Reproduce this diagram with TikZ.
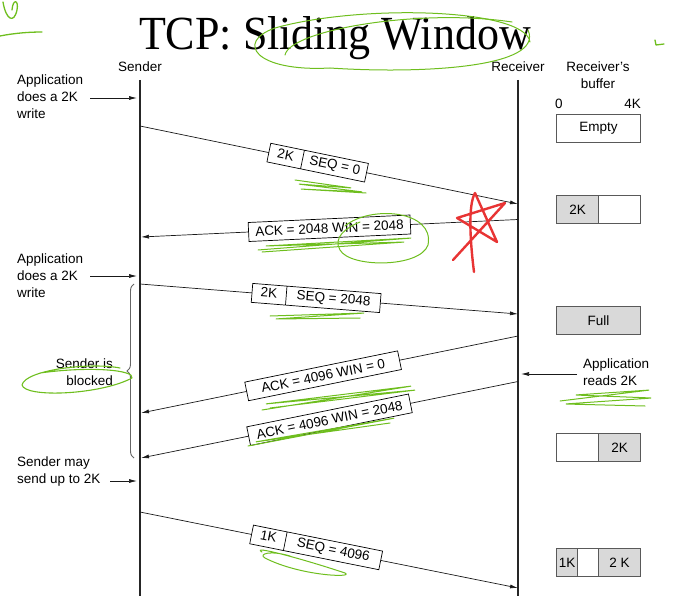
\documentclass[tikz,border=0pt]{standalone}
\usepackage{fontspec}
\setmainfont{Liberation Sans}
\newfontfamily\titlefont{Liberation Serif}
\usetikzlibrary{arrows.meta,shapes.multipart,decorations.pathreplacing,calc}
\definecolor{hl}{RGB}{110,190,30}
\definecolor{redmark}{RGB}{232,52,52}
\definecolor{cellgray}{RGB}{217,217,217}
\begin{document}
\begin{tikzpicture}[x=1pt,y=-1pt, font=\fontsize{13.5}{17}\selectfont,
  life/.style={line width=1.1pt, draw=black!85},
  msg/.style={line width=0.7pt, draw=black!90, -{Latex[length=8pt,width=4pt]}},
  arr/.style={line width=0.7pt, draw=black!90, -{Latex[length=8pt,width=4pt]}},
  lbl/.style={draw=black, line width=0.7pt, fill=white, sloped, inner xsep=0pt, inner ysep=0pt, minimum height=19pt},
  seg/.style={draw=black, line width=0.7pt, fill=white, sloped, rectangle split, rectangle split horizontal, rectangle split parts=2, inner xsep=6pt, inner ysep=1pt},
  buf/.style={draw=black!65, line width=1pt, minimum height=28pt, inner sep=0pt, anchor=north west},
  note/.style={align=left, inner sep=0pt},
  hand/.style={draw=hl, line width=1.3pt, line cap=round, line join=round},
]
\useasboundingbox (0,0) rectangle (687,596);

% title
\node[font=\titlefont\fontsize{44}{50}\selectfont, anchor=base, inner sep=0pt, yscale=1.08, transform shape] (title) at (335,50) {TCP: Sliding Window};

% headings
\node (sender) at (140,67) {Sender};
\node (receiver) at (518,67) {Receiver};
\node[align=center, inner sep=0pt] (rbuf) at (598,75) {Receiver's\\buffer};
\node[anchor=west, inner sep=0pt] (zero) at (555,104) {0};
\node[anchor=east, inner sep=0pt] (fourk) at (641,104) {4K};

% lifelines
\coordinate (stop) at (140,80);
\coordinate (sbot) at (140,596);
\coordinate (rtop) at (518,80);
\coordinate (rbot) at (518,596);
\draw[life] (stop) -- (sbot);
\draw[life] (rtop) -- (rbot);

% left notes
\node[note, anchor=west] (app1) at (17,97) {Application\\does a 2K\\write};
\coordinate (app1s) at (90,98);
\coordinate (app1e) at (137,98);
\draw[arr] (app1s) -- (app1e);

\node[note, anchor=west] (app2) at (17,276) {Application\\does a 2K\\write};
\coordinate (app2s) at (90,276);
\coordinate (app2e) at (137,276);
\draw[arr] (app2s) -- (app2e);

\node[note, anchor=east, align=right] (blk) at (113,372) {Sender is\\blocked};
\coordinate (brb) at (134,458);
\coordinate (brt) at (134,284);
\draw[draw=black!60, line width=0.9pt, decorate, decoration={brace, amplitude=7pt}] (brb) -- (brt);

\node[note, anchor=west] (may) at (17,472) {Sender may\\send up to 2K};
\coordinate (mays) at (110,481);
\coordinate (maye) at (137,481);
\draw[arr] (mays) -- (maye);

\node[note, anchor=west] (reads) at (583,372) {Application\\reads 2K};
\coordinate (readss) at (577,374);
\coordinate (readse) at (521,374);
\draw[arr] (readss) -- (readse);

% messages
\coordinate (s1) at (140,126); \coordinate (r1) at (518,204);
\draw[msg] (s1) -- node[seg, pos=0.47] (m1) {\strut\makebox[22pt]{2K}\nodepart{two}\strut\makebox[53pt]{SEQ = 0}} (r1);

\coordinate (r2) at (518,219.5); \coordinate (s2) at (141,237);
\draw[msg] (r2) -- node[lbl, pos=0.5, minimum width=162pt] (m2) {ACK = 2048 WIN = 2048} (s2);

\coordinate (s3) at (140,284); \coordinate (r3) at (518,314);
\draw[msg] (s3) -- node[seg, pos=0.466] (m3) {\strut\makebox[22pt]{2K}\nodepart{two}\strut\makebox[82pt]{SEQ = 2048}} (r3);

\coordinate (r4) at (518,336); \coordinate (s4) at (141,413);
\draw[msg] (r4) -- node[lbl, pos=0.517, minimum width=156pt] (m4) {ACK = 4096 WIN = 0} (s4);

\coordinate (r5) at (518,381.5); \coordinate (s5) at (141,458);
\draw[msg] (r5) -- node[lbl, pos=0.5, minimum width=165pt] (m5) {ACK = 4096 WIN = 2048} (s5);

\coordinate (s6) at (140,512); \coordinate (r6) at (518,588);
\draw[msg] (s6) -- node[seg, pos=0.466] (m6) {\strut\makebox[22pt]{1K}\nodepart{two}\strut\makebox[85pt]{SEQ = 4096}} (r6);

% buffers
\node[buf, minimum width=84pt] (b1) at (556,114) {Empty};
\node[buf, minimum width=42pt, fill=cellgray] (b2a) at (556,195) {2K};
\node[buf, minimum width=42pt] (b2b) at (598,195) {};
\node[buf, minimum width=84pt, fill=cellgray] (b3) at (556,306) {Full};
\node[buf, minimum width=42pt] (b4a) at (556,433) {};
\node[buf, minimum width=42pt, fill=cellgray] (b4b) at (598,433) {2K};
\node[buf, minimum width=21pt, fill=cellgray] (b5a) at (556,548) {1K};
\node[buf, minimum width=21pt] (b5b) at (577,548) {};
\node[buf, minimum width=42pt, fill=cellgray] (b5c) at (598,548) {2 K};

% handwritten annotations
\draw[hand] (3,2) .. controls (6,20) and (14,24) .. (17,10) .. controls (19,0) and (13,-2) .. (12,10);
\draw[hand] (0,36) .. controls (15,33) and (30,32) .. (42,32);
\draw[hand] (655,40) -- (656,45) -- (664,44);
\draw[hand, line width=1pt] (530,42) .. controls (525,8) and (360,4) .. (275,28) .. controls (235,42) and (255,72) .. (330,68) .. controls (420,74) and (545,68) .. (528,30);
\draw[hand, line width=1pt] (285,55) .. controls (290,30) and (420,8) .. (512,22);
\draw[hand, line width=1pt, rounded corners=2pt] (295,180) -- (352,188) -- (298,184) -- (363,192) -- (300,189) -- (366,193);
\draw[hand, line width=1pt] (345,226) .. controls (370,205) and (435,210) .. (428,245) .. controls (420,268) and (350,268) .. (340,250) .. controls (333,238) and (345,228) .. (360,222);
\draw[hand, line width=1pt, rounded corners=2pt] (258,250) -- (412,238) -- (265,246) -- (405,242) -- (262,252);
\draw[draw=redmark, line width=2.4pt, line cap=round, line join=round] (474,272) .. controls (470,240) and (468,205) .. (475,193) -- (497,242) -- (457,218) -- (505,203) -- (453,260);
\draw[hand, line width=1pt, rounded corners=2pt] (270,316) -- (365,313) -- (275,319) -- (360,318);
\draw[hand, line width=1.1pt] (120,368) .. controls (90,362) and (25,370) .. (22,385) .. controls (25,398) and (100,395) .. (132,378) .. controls (135,370) and (90,366) .. (40,373);
\draw[hand, line width=1pt, rounded corners=2pt] (262,410) -- (412,386) -- (265,404) -- (416,390) -- (270,408);
\draw[hand, line width=1pt, rounded corners=2pt] (248,446) -- (395,418) -- (255,442) -- (390,423);
\draw[hand, line width=1pt, rounded corners=2pt] (560,401) -- (650,390) -- (575,395) -- (652,398) -- (565,404) -- (645,406);
\draw[hand, line width=1pt] (262,552) .. controls (250,545) and (300,558) .. (345,573) .. controls (355,578) and (300,576) .. (265,558) .. controls (258,554) and (270,550) .. (290,556);
\end{tikzpicture}
\end{document}
